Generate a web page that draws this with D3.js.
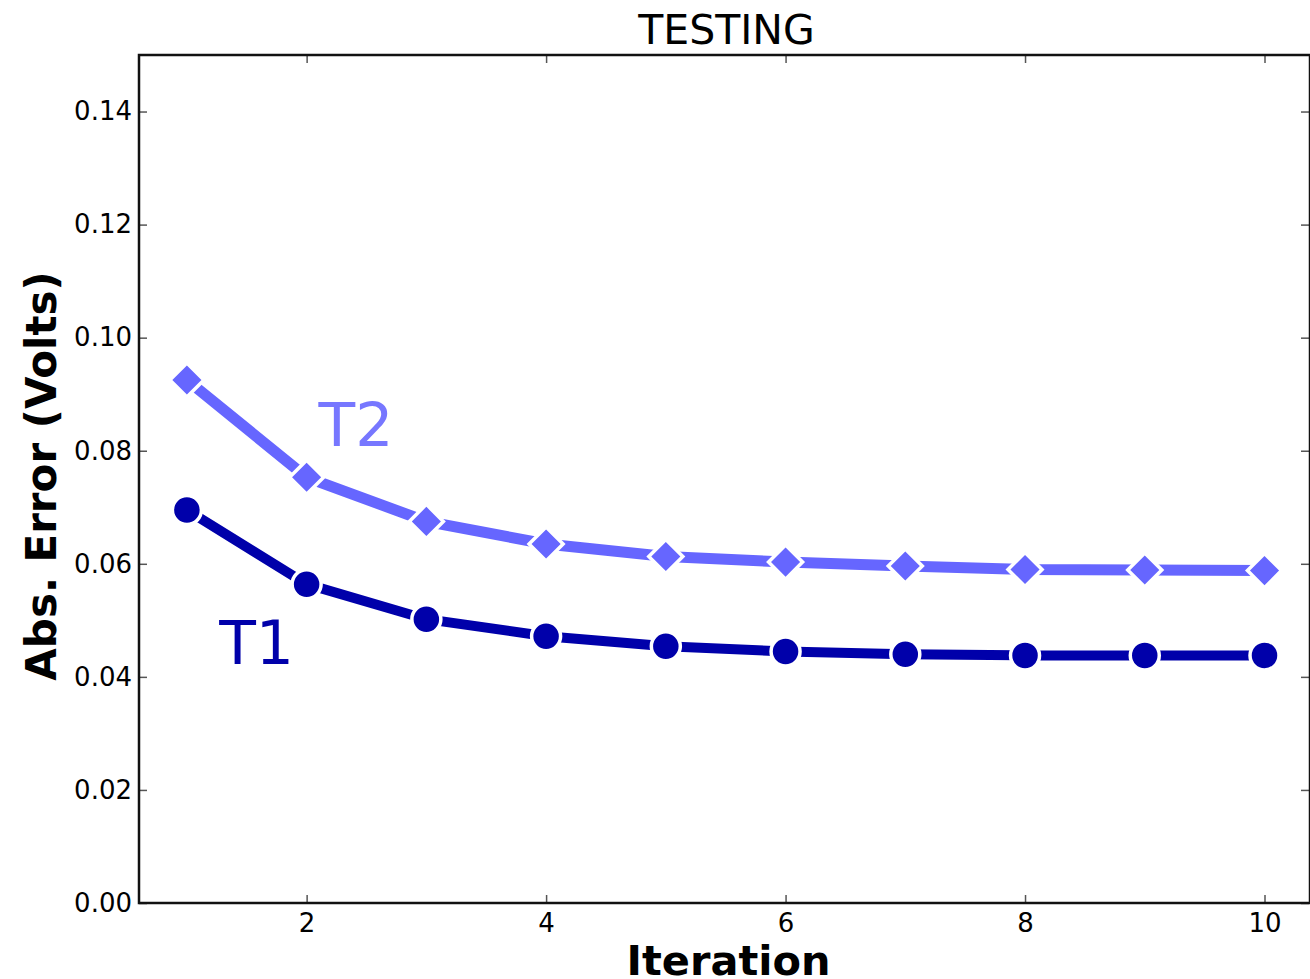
<!DOCTYPE html>
<html>
<head>
<meta charset="utf-8">
<script src="https://cdn.jsdelivr.net/npm/d3@7"></script>
<style>
  body { margin: 0; background: #fff; }
  svg { display: block; font-family: "DejaVu Sans", sans-serif; }
</style>
</head>
<body>
<script>
var iterations = [1, 2, 3, 4, 5, 6, 7, 8, 9, 10];
var t1Values = [0.0695, 0.0564, 0.0502, 0.0472, 0.0454, 0.0445, 0.0440, 0.0438, 0.0438, 0.0438];
var t2Values = [0.0925, 0.0753, 0.0675, 0.0635, 0.0613, 0.0603, 0.0596, 0.0590, 0.0589, 0.0588];
var xTicks = [2, 4, 6, 8, 10];
var yTicks = [0, 0.02, 0.04, 0.06, 0.08, 0.10, 0.12, 0.14];

var width = 1310;
var height = 979;
var plotLeft = 139, plotRight = 1310, plotTop = 55, plotBottom = 903;

var svg = d3.select("body")
  .append("svg")
  .attr("width", width)
  .attr("height", height);

var xScale = d3.scaleLinear()
  .domain([0.6, 10.38])
  .range([plotLeft, plotRight]);

var yScale = d3.scaleLinear()
  .domain([0, 0.15])
  .range([plotBottom, plotTop]);

// axes, ticks pointing inward like matplotlib
var tickLen = 8;
svg.append("g")
  .attr("transform", "translate(0," + plotBottom + ")")
  .call(d3.axisBottom(xScale).tickValues(xTicks).tickSize(-tickLen).tickPadding(11)
    .tickFormat(d3.format("d")))
  .call(styleAxis);

svg.append("g")
  .attr("transform", "translate(0," + plotTop + ")")
  .call(d3.axisTop(xScale).tickValues(xTicks).tickSize(-tickLen).tickFormat(""))
  .call(styleAxis);

svg.append("g")
  .attr("transform", "translate(" + plotLeft + ",0)")
  .call(d3.axisLeft(yScale).tickValues(yTicks).tickSize(-tickLen).tickPadding(7)
    .tickFormat(d3.format(".2f")))
  .call(styleAxis);

svg.append("g")
  .attr("transform", "translate(" + (plotRight - 1) + ",0)")
  .call(d3.axisRight(yScale).tickValues(yTicks).tickSize(-tickLen).tickFormat(""))
  .call(styleAxis);

function styleAxis(g) {
  g.select(".domain").remove();
  g.selectAll(".tick line").attr("stroke", "#555").attr("stroke-width", 1.5);
  g.selectAll(".tick text").attr("font-size", 26).attr("fill", "#000")
    .attr("font-family", "DejaVu Sans");
}

// frame
svg.append("rect")
  .attr("x", plotLeft)
  .attr("y", plotTop)
  .attr("width", plotRight - plotLeft)
  .attr("height", plotBottom - plotTop)
  .attr("fill", "none")
  .attr("stroke", "#111")
  .attr("stroke-width", 2.5);

var t1 = iterations.map(function(d, i) { return [d, t1Values[i]]; });
var t2 = iterations.map(function(d, i) { return [d, t2Values[i]]; });

var line = d3.line()
  .x(function(d) { return xScale(d[0]); })
  .y(function(d) { return yScale(d[1]); });

svg.append("path")
  .datum(t2)
  .attr("d", line)
  .attr("fill", "none")
  .attr("stroke", "#6666ff")
  .attr("stroke-width", 11);

svg.selectAll(".t2pt")
  .data(t2)
  .enter()
  .append("path")
  .attr("class", "t2pt")
  .attr("d", d3.symbol().type(d3.symbolSquare).size(580))
  .attr("transform", function(d) {
    return "translate(" + xScale(d[0]) + "," + yScale(d[1]) + ") rotate(45)";
  })
  .attr("fill", "#6666ff")
  .attr("stroke", "#fff")
  .attr("stroke-width", 3.5);

svg.append("path")
  .datum(t1)
  .attr("d", line)
  .attr("fill", "none")
  .attr("stroke", "#0000aa")
  .attr("stroke-width", 10);

svg.selectAll(".t1pt")
  .data(t1)
  .enter()
  .append("circle")
  .attr("class", "t1pt")
  .attr("cx", function(d) { return xScale(d[0]); })
  .attr("cy", function(d) { return yScale(d[1]); })
  .attr("r", 14.5)
  .attr("fill", "#0000aa")
  .attr("stroke", "#fff")
  .attr("stroke-width", 3.5);

// series labels
svg.append("text")
  .attr("x", xScale(2.1))
  .attr("y", 446)
  .attr("font-size", 60)
  .attr("fill", "#7777ff")
  .text("T2");

svg.append("text")
  .attr("x", xScale(1.27))
  .attr("y", 664)
  .attr("font-size", 60)
  .attr("fill", "#0000aa")
  .text("T1");

// title and axis labels
svg.append("text")
  .attr("x", (plotLeft + plotRight) / 2 + 2)
  .attr("y", 44)
  .attr("text-anchor", "middle")
  .attr("font-size", 41)
  .attr("fill", "#000")
  .text("TESTING");

svg.append("text")
  .attr("x", (plotLeft + plotRight) / 2 + 4)
  .attr("y", 975)
  .attr("text-anchor", "middle")
  .attr("font-size", 41.5)
  .attr("font-weight", "bold")
  .attr("fill", "#000")
  .text("Iteration");

svg.append("text")
  .attr("transform", "translate(56," + ((plotTop + plotBottom) / 2 - 3) + ") rotate(-90)")
  .attr("text-anchor", "middle")
  .attr("font-size", 42)
  .attr("font-weight", "bold")
  .attr("fill", "#000")
  .text("Abs. Error (Volts)");
</script>
</body>
</html>
